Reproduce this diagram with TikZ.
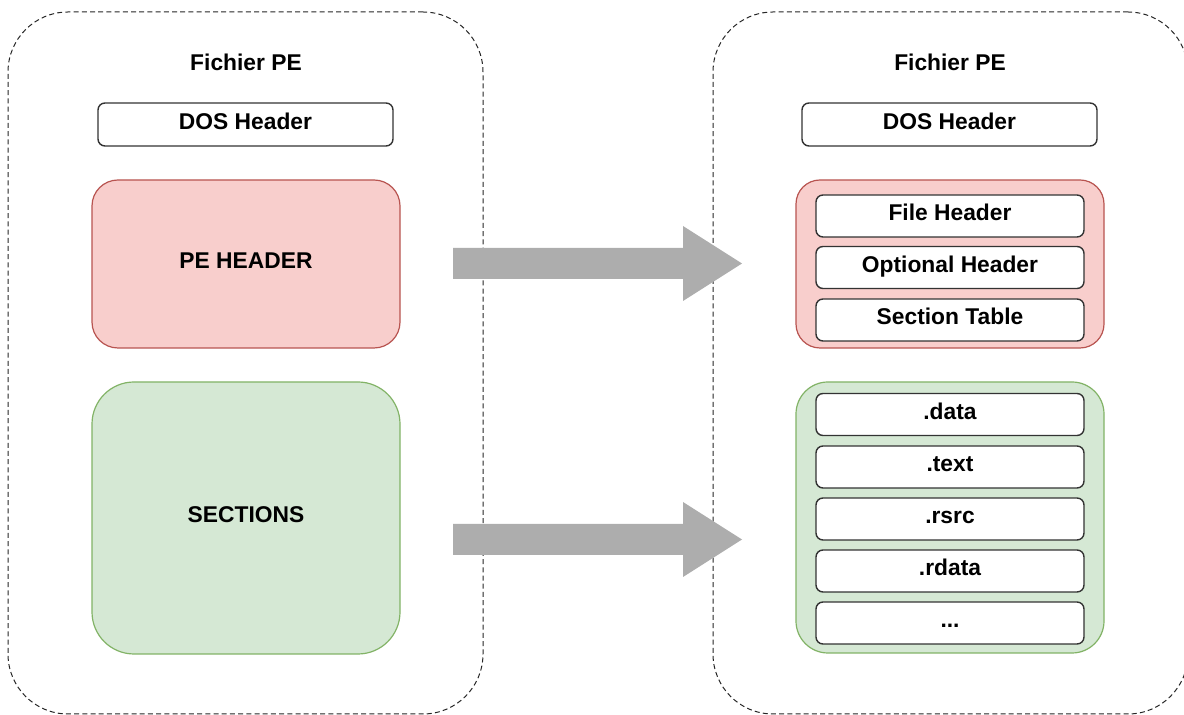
\documentclass[tikz,border=0pt]{standalone}
\usepackage{fontspec}
\setmainfont{Liberation Sans}
\definecolor{redfill}{HTML}{F8CECC}
\definecolor{redline}{HTML}{B85450}
\definecolor{greenfill}{HTML}{D5E8D4}
\definecolor{greenline}{HTML}{82B366}
\definecolor{arrowgray}{HTML}{ADADAD}
\definecolor{boxline}{HTML}{333333}
\tikzset{
  container/.style={draw=black!85, line width=0.5pt, dash pattern=on 2.5pt off 1.6pt, rounded corners=30pt, fill=white},
  title/.style={font=\fontsize{11.4}{13}\selectfont\bfseries},
  boxtext/.style={font=\fontsize{11.4}{13}\selectfont\bfseries, text height=0.72em, text depth=0.23em},
  whitebox/.style={boxtext, draw=boxline, line width=0.7pt, fill=white, rounded corners=3.5pt},
  innerbox/.style={whitebox, minimum width=134pt, minimum height=21pt},
  redbox/.style={boxtext, draw=redline, line width=0.6pt, fill=redfill},
  greenbox/.style={boxtext, draw=greenline, line width=0.6pt, fill=greenfill},
  blockarrow/.style={fill=arrowgray, draw=none}
}
\begin{document}
\begin{tikzpicture}[x=0.5pt,y=-0.5pt]
\useasboundingbox (0,0) rectangle (1184,715);
% containers
\node[container, minimum width=237.5pt, minimum height=351pt] (lc) at (245.5,363) {};
\node[container, minimum width=237.5pt, minimum height=351pt] (rc) at (950.5,363) {};
% titles
\node[title] (lt) at (246,62) {Fichier PE};
\node[title] (rt) at (950,62) {Fichier PE};
% DOS headers
\node[whitebox, minimum width=147.5pt, minimum height=21.5pt] (ldos) at (245.5,124.5) {DOS Header};
\node[whitebox, minimum width=147.5pt, minimum height=21.5pt] (rdos) at (949.5,124.5) {DOS Header};
% left blocks
\node[redbox, rounded corners=13pt, minimum width=154pt, minimum height=84pt] (lpe) at (246,264) {PE HEADER};
\node[greenbox, rounded corners=21pt, minimum width=154pt, minimum height=136pt] (lsec) at (246,518) {SECTIONS};
% right blocks
\node[redbox, rounded corners=12pt, minimum width=154pt, minimum height=84pt] (rpe) at (950,264) {};
\node[greenbox, rounded corners=16pt, minimum width=154pt, minimum height=135.5pt] (rsec) at (950,517.5) {};
% inner boxes
\node[innerbox] (fh) at (950,216) {File Header};
\node[innerbox] (oh) at (950,267.5) {Optional Header};
\node[innerbox] (st) at (950,320) {Section Table};
\node[innerbox] (sdata) at (950,414.5) {.data};
\node[innerbox] (stext) at (950,467) {.text};
\node[innerbox] (srsrc) at (950,519) {.rsrc};
\node[innerbox] (srdata) at (950,571) {.rdata};
\node[innerbox] (sdots) at (950,623) {...};
% block arrows
\coordinate (a1s) at (453,263.5);
\coordinate (a1t) at (742,263.5);
\coordinate (a2s) at (453,539.5);
\coordinate (a2t) at (742,539.5);
\fill[blockarrow] (a1s) ++(0,-15.5) -- ++(230,0) -- ++(0,-22) -- (a1t) -- ++(-59,37.5) -- ++(0,-22) -- ++(-230,0) -- cycle;
\fill[blockarrow] (a2s) ++(0,-15.5) -- ++(230,0) -- ++(0,-22) -- (a2t) -- ++(-59,37.5) -- ++(0,-22) -- ++(-230,0) -- cycle;
\end{tikzpicture}
\end{document}
